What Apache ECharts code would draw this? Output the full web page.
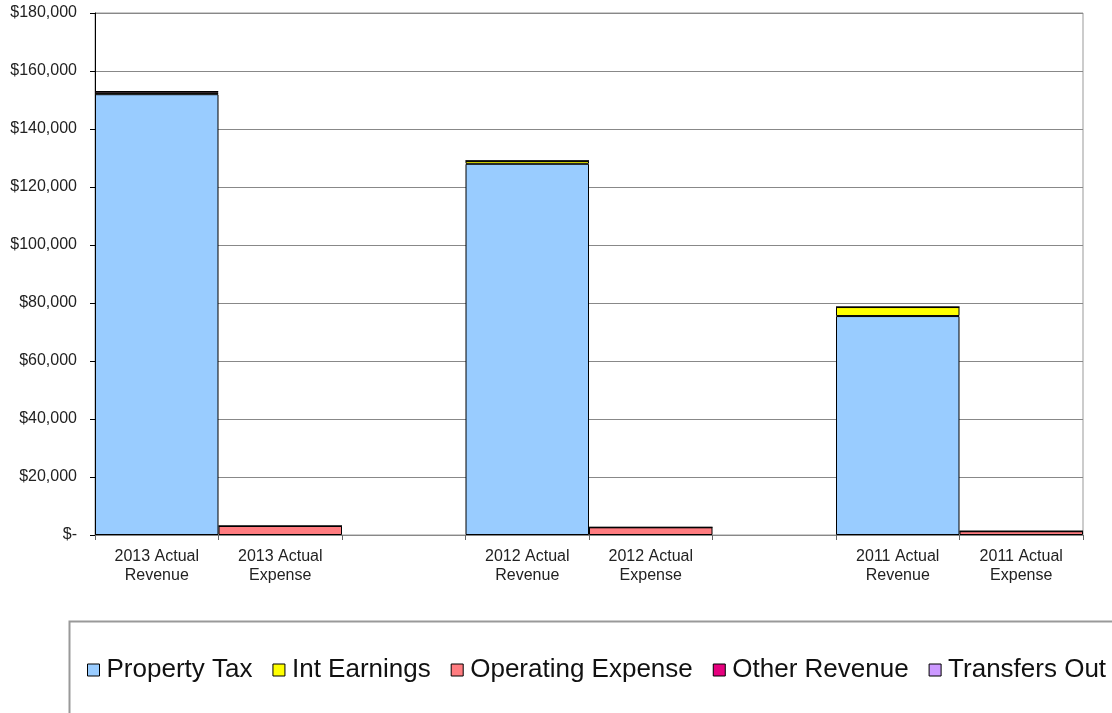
<!DOCTYPE html>
<html>
<head>
<meta charset="utf-8">
<script src="https://cdn.jsdelivr.net/npm/echarts@6/dist/echarts.min.js"></script>
<style>html,body{margin:0;padding:0;background:#fff;}#c{width:1112px;height:713px;}</style>
</head>
<body>
<div id="c"></div>
<script>
const categories = ['2013 Actual\nRevenue', '2013 Actual\nExpense', '', '2012 Actual\nRevenue', '2012 Actual\nExpense', '', '2011 Actual\nRevenue', '2011 Actual\nExpense'];
const propertyTax      = [152000, null, null, 128000, null, null, 75500, null];
const intEarnings      = [500, null, null, 1000, null, null, 3100, null];
const operatingExpense = [null, 3100, null, null, 2650, null, null, 1300];
const otherRevenue     = [600, null, null, 0, null, null, 0, null];
const transfersOut     = [null, 0, null, null, 0, null, null, 0];
const yTicks = [0, 20000, 40000, 60000, 80000, 100000, 120000, 140000, 160000, 180000];

const chart = echarts.init(document.getElementById('c'), null, {renderer: 'canvas'});
const font = 'Arial, "Liberation Sans", sans-serif';
function bar(name, data, color) {
  return {
    name: name, type: 'bar', stack: 'all', data: data,
    barCategoryGap: '0%',
    itemStyle: {color: color, borderColor: '#000', borderWidth: 1},
    emphasis: {disabled: true}
  };
}
chart.setOption({
  animation: false,
  backgroundColor: '#fff',
  grid: {left: 95, right: 29, top: 13, bottom: 178, show: true, borderColor: '#999', borderWidth: 1},
  xAxis: {
    type: 'category', data: categories,
    axisLine: {lineStyle: {color: '#888', width: 1}},
    axisTick: {show: true, interval: 0, length: 5, lineStyle: {color: '#666'}},
    axisLabel: {interval: 0, color: '#222', fontFamily: font, fontSize: 16, lineHeight: 19, margin: 12}
  },
  yAxis: {
    type: 'value', min: yTicks[0], max: yTicks[yTicks.length - 1], interval: 20000,
    axisLine: {show: true, lineStyle: {color: '#000', width: 1}},
    axisTick: {show: true, length: 5, lineStyle: {color: '#000'}},
    splitLine: {lineStyle: {color: '#888', width: 1}},
    axisLabel: {
      color: '#222', fontFamily: font, fontSize: 16, margin: 18,
      formatter: function (v) { return v === 0 ? '$-' : '$' + v.toLocaleString('en-US'); }
    }
  },
  legend: {
    left: 82, top: 652, itemWidth: 12, itemHeight: 12, itemGap: 20,
    icon: 'rect',
    textStyle: {fontFamily: font, fontSize: 26, color: '#111', padding: [0, 0, 0, 2]},
    itemStyle: {borderColor: '#000', borderWidth: 1},
    data: ['Property Tax', 'Int Earnings', 'Operating Expense', 'Other Revenue', 'Transfers Out']
  },
  graphic: [{
    type: 'rect', left: 67, top: 619, shape: {width: 1060, height: 110},
    style: {fill: 'none', stroke: '#999', lineWidth: 2}, silent: true
  }],
  series: [
    bar('Property Tax', propertyTax, '#99CCFF'),
    bar('Int Earnings', intEarnings, '#FFFF00'),
    bar('Operating Expense', operatingExpense, '#FF7C80'),
    bar('Other Revenue', otherRevenue, '#E6007E'),
    bar('Transfers Out', transfersOut, '#CC99FF')
  ]
});
</script>
</body>
</html>
